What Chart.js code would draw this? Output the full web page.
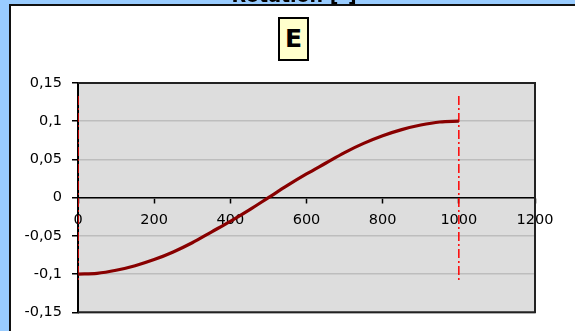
<!DOCTYPE html>
<html>
<head>
<meta charset="utf-8">
<script src="https://cdn.jsdelivr.net/npm/chart.js@4.4.1/dist/chart.umd.min.js"></script>
<style>
  html, body { margin: 0; padding: 0; overflow: hidden; width: 100%; height: 100%; background: #ffffff; }
  #bgTop { position: fixed; left: 0; top: 0; right: -40px; height: 6px; background: #99CCFF; }
  #bgLeft { position: fixed; left: 0; top: 0; width: 11px; bottom: -40px; background: #99CCFF; }
  #panel { position: fixed; left: 9px; top: 4px; right: -40px; bottom: -40px; background: #ffffff; border-left: 2px solid #111; border-top: 2px solid #111; }
  #title { position: fixed; left: 0; top: -14px; width: 588px; text-align: center; font: bold 19px "DejaVu Sans", sans-serif; line-height: 19px; color: #000; white-space: nowrap; }
  #tag { position: fixed; left: 278px; top: 17px; width: 31px; height: 44px; box-sizing: border-box; border: 2px solid #000; background: #FFFFCC; text-align: center; font: bold 25px "DejaVu Sans", sans-serif; line-height: 40px; color: #000; }
  #c { position: fixed; left: 0; top: 0; }
</style>
</head>
<body>
<div id="bgTop"></div>
<div id="bgLeft"></div>
<div id="panel"></div>
<div id="title">Rotation [°]</div>
<canvas id="c" width="575" height="331"></canvas>
<div id="tag">E</div>
<script>
// Data
const xValues = [0, 50, 100, 150, 200, 250, 300, 350, 400, 450, 500, 550, 600, 650, 700, 750, 800, 850, 900, 950, 1000];
const rotation = [-0.1, -0.099, -0.095, -0.089, -0.081, -0.071, -0.059, -0.045, -0.031, -0.016, 0, 0.016, 0.031, 0.045, 0.059, 0.071, 0.081, 0.089, 0.095, 0.099, 0.1];
const markerX = [0, 1000];
const markerTop = 0.133;
const markerBottom = -0.11;
const xTicks = [0, 200, 400, 600, 800, 1000, 1200];
const yTicks = [-0.15, -0.1, -0.05, 0, 0.05, 0.1, 0.15];

const curve = xValues.map((x, i) => ({ x: x, y: rotation[i] }));
const markerSets = markerX.map(x => ({
  data: [{ x: x, y: markerTop }, { x: x, y: markerBottom }],
  showLine: true,
  borderColor: '#FF0000',
  borderWidth: 1.5,
  borderDash: [9, 3, 2, 3],
  pointRadius: 0,
  fill: false
}));

const fmt = v => {
  const r = Math.round(v * 100) / 100;
  return String(r).replace('.', ',');
};

const plotBg = {
  id: 'plotBg',
  beforeDraw(chart) {
    const { ctx, chartArea: a } = chart;
    ctx.save();
    ctx.fillStyle = '#DDDDDD';
    ctx.fillRect(a.left, a.top, a.right - a.left, a.bottom - a.top);
    ctx.restore();
  },
  afterDraw(chart) {
    const { ctx, chartArea: a } = chart;
    ctx.save();
    ctx.strokeStyle = '#222';
    ctx.lineWidth = 2;
    ctx.beginPath();
    ctx.moveTo(a.left, a.top);
    ctx.lineTo(a.right, a.top);
    ctx.lineTo(a.right, a.bottom);
    ctx.lineTo(a.left, a.bottom);
    ctx.stroke();
    ctx.restore();
  }
};

new Chart(document.getElementById('c'), {
  type: 'scatter',
  data: {
    datasets: [
      {
        data: curve,
        showLine: true,
        borderColor: '#880000',
        borderWidth: 3.2,
        pointRadius: 0,
        cubicInterpolationMode: 'monotone',
        fill: false
      },
      ...markerSets
    ]
  },
  options: {
    responsive: false,
    animation: false,
    layout: { padding: { left: 0, right: 40, top: 83, bottom: 18 } },
    plugins: { legend: { display: false }, tooltip: { enabled: false } },
    scales: {
      x: {
        type: 'linear',
        position: { y: 0 },
        min: 0, max: 1200,
        afterBuildTicks(s) { s.ticks = xTicks.map(v => ({ value: v })); },
        afterFit(s) { s.height = 0; },
        grid: { drawOnChartArea: false, drawTicks: true, tickLength: 5, tickColor: '#000', tickWidth: 1.5 },
        border: { color: '#000', width: 1.5 },
        ticks: { color: '#000', padding: 9, maxRotation: 0, autoSkip: false, font: { family: 'DejaVu Sans', size: 14.5 }, callback: v => fmt(v) }
      },
      y: {
        type: 'linear',
        position: 'left',
        min: -0.15, max: 0.15,
        afterBuildTicks(s) { s.ticks = yTicks.map(v => ({ value: v })); },
        afterFit(s) { s.width = 78; },
        grid: { color: '#BDBDBD', lineWidth: 1.5, drawTicks: true, tickLength: 6, tickColor: '#000', tickWidth: 1.5 },
        border: { color: '#000', width: 2 },
        ticks: { color: '#000', padding: 10, autoSkip: false, font: { family: 'DejaVu Sans', size: 14.5 }, callback: v => fmt(v) }
      }
    }
  },
  plugins: [plotBg]
});
</script>
</body>
</html>
